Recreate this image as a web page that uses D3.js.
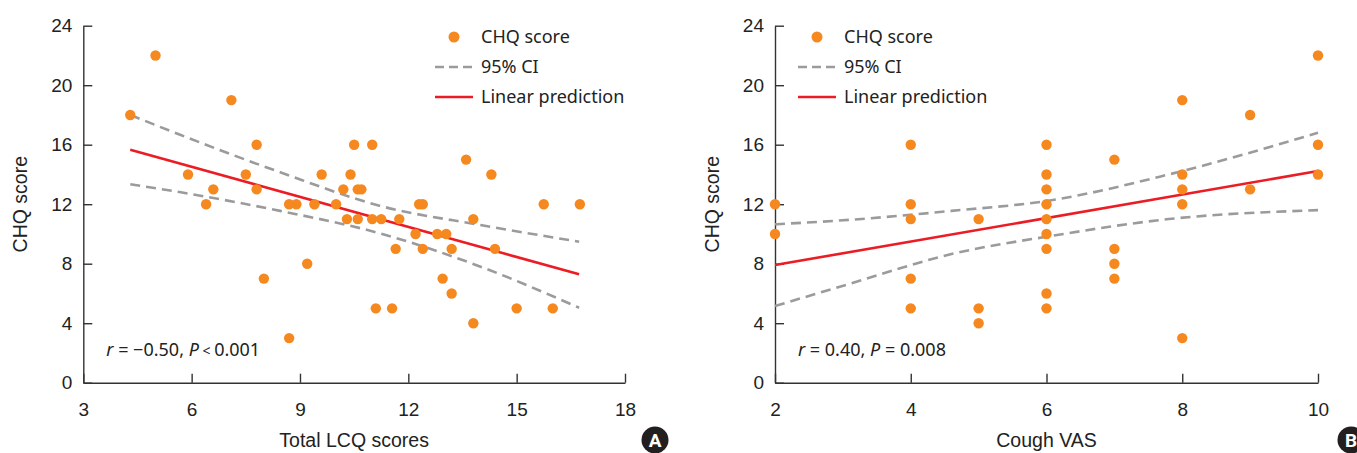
<!DOCTYPE html>
<html lang="en">
<head>
<meta charset="utf-8">
<title>CHQ score correlations</title>
<script src="https://d3js.org/d3.v7.min.js"></script>
<style>
    body { margin: 0; background: #fff; }
    svg { display: block; }
    .tick text { font-family: "Liberation Sans Narrow", "Liberation Sans", Arial, sans-serif; font-size: 19px; fill: #222; }
    .axis path, .axis line { stroke: #333; stroke-width: 1.4; }
    .title { font-family: "Liberation Sans Narrow", "Liberation Sans", Arial, sans-serif; font-size: 19.5px; fill: #222; }
    .legend, .stat { font-family: "Noto Sans", "Open Sans", sans-serif; font-size: 18px; fill: #222; }
</style>
</head>
<body>
<div id="chart"></div>
<script>
// Panel A: Total LCQ scores vs CHQ score
var lcqScores = [4.3, 5.0, 5.9, 6.4, 6.6, 7.1, 7.5, 7.8, 7.8, 8.0, 8.7, 8.7, 8.9, 9.2, 9.4, 9.6, 10.0, 10.2, 10.3, 10.4,
                 10.5, 10.6, 10.7, 10.6, 11.0, 11.0, 11.1, 11.25, 11.55, 11.65, 11.75, 12.2, 12.3, 12.4, 12.4, 12.8, 12.95, 13.05, 13.2, 13.2,
                 13.6, 13.8, 13.8, 14.3, 14.4, 15.0, 15.75, 16.0, 16.75];
var chqA = [18, 22, 14, 12, 13, 19, 14, 16, 13, 7, 3, 12, 12, 8, 12, 14, 12, 13, 11, 14,
            16, 13, 13, 11, 16, 11, 5, 11, 5, 9, 11, 10, 12, 12, 9, 10, 7, 10, 6, 9,
            15, 11, 4, 14, 9, 5, 12, 5, 12];
var predAx = [4.3, 16.73];
var predAy = [15.66, 7.29];
var ciAx = [4.3, 5.7, 8.45, 11.2, 14.0, 16.73];
var ciAupper = [18.0, 16.65, 14.15, 11.9, 10.6, 9.48];
var ciAlower = [13.34, 12.8, 11.55, 10.05, 7.8, 5.04];

// Panel B: Cough VAS vs CHQ score
var coughVas = [2, 2, 4, 4, 4, 4, 4, 5, 5, 5, 6, 6, 6, 6, 6, 6, 6, 6, 6, 7, 7, 7, 7, 8, 8, 8, 8, 8, 9, 9, 10, 10, 10];
var chqB = [12, 10, 16, 12, 11, 7, 5, 11, 5, 4, 16, 14, 13, 12, 11, 10, 9, 6, 5, 15, 9, 8, 7, 19, 14, 13, 12, 3, 18, 13, 22, 16, 14];
var predBx = [2, 10];
var predBy = [7.91, 14.23];
var ciBx = [2, 3.1, 4.6, 6.05, 7.8, 10];
var ciBupper = [10.65, 10.95, 11.55, 12.25, 14.0, 16.8];
var ciBlower = [5.15, 6.65, 8.65, 9.85, 11.0, 11.6];

var yTicks = [0, 4, 8, 12, 16, 20, 24];
var xTicksA = [3, 6, 9, 12, 15, 18];
var xTicksB = [2, 4, 6, 8, 10];

var width = 1357, height = 453;
var orange = '#F5891F', red = '#EC1C24', grey = '#9B9B9D';

var svg = d3.select('#chart').append('svg')
    .attr('width', width)
    .attr('height', height);

function drawPanel(opt) {
    var x = d3.scaleLinear().domain(opt.xDomain).range(opt.xRange);
    var y = d3.scaleLinear().domain([0, 24]).range([382.7, 25.7]);
    var g = svg.append('g');

    // axes, ticks pointing inward
    g.append('g').attr('class', 'axis')
        .attr('transform', 'translate(' + opt.xRange[0] + ',0)')
        .call(d3.axisLeft(y).tickValues(yTicks).tickSizeInner(-9).tickSizeOuter(0).tickPadding(11));
    g.append('g').attr('class', 'axis')
        .attr('transform', 'translate(0,' + y(0) + ')')
        .call(d3.axisBottom(x).tickValues(opt.xTicks).tickSizeInner(-9).tickSizeOuter(0).tickPadding(20));

    // CI lines
    var ciLine = d3.line().curve(d3.curveMonotoneX)
        .x(function (d) { return x(d[0]); })
        .y(function (d) { return y(d[1]); });
    [opt.ciUpper, opt.ciLower].forEach(function (arr) {
        g.append('path')
            .datum(opt.ciX.map(function (v, i) { return [v, arr[i]]; }))
            .attr('d', ciLine)
            .attr('fill', 'none')
            .attr('stroke', grey)
            .attr('stroke-width', 2.6)
            .attr('stroke-dasharray', '10,6');
    });

    // prediction line
    g.append('path')
        .datum(opt.predX.map(function (v, i) { return [v, opt.predY[i]]; }))
        .attr('d', ciLine.curve(d3.curveLinear))
        .attr('fill', 'none')
        .attr('stroke', red)
        .attr('stroke-width', 2.6);

    // points
    g.selectAll('.dot')
        .data(opt.xs)
        .enter().append('circle')
        .attr('class', 'dot')
        .attr('cx', function (d) { return x(d); })
        .attr('cy', function (d, i) { return y(opt.ys[i]); })
        .attr('r', 5.2)
        .attr('fill', orange);

    // axis titles
    g.append('text').attr('class', 'title')
        .attr('x', (opt.xRange[0] + opt.xRange[1]) / 2)
        .attr('y', 447)
        .attr('text-anchor', 'middle')
        .text(opt.xTitle);
    g.append('text').attr('class', 'title')
        .attr('transform', 'translate(' + (opt.xRange[0] - 56) + ',' + y(12) + ') rotate(-90)')
        .attr('text-anchor', 'middle')
        .text('CHQ score');

    // legend
    var lx = opt.legendX;
    g.append('circle').attr('cx', lx + 19).attr('cy', 37).attr('r', 5.5).attr('fill', orange);
    g.append('line').attr('x1', lx).attr('x2', lx + 38).attr('y1', 67).attr('y2', 67)
        .attr('stroke', grey).attr('stroke-width', 2.6).attr('stroke-dasharray', '9,5');
    g.append('line').attr('x1', lx).attr('x2', lx + 38).attr('y1', 97).attr('y2', 97)
        .attr('stroke', red).attr('stroke-width', 2.6);
    var labels = ['CHQ score', '95% CI', 'Linear prediction'];
    labels.forEach(function (t, i) {
        g.append('text').attr('class', 'legend')
            .attr('x', lx + 46).attr('y', 37 + i * 30).attr('dy', '0.35em')
            .text(t);
    });

    // correlation text
    var st = g.append('text').attr('class', 'stat')
        .attr('x', opt.xRange[0] + 23).attr('y', 356);
    st.append('tspan').attr('font-style', 'italic').text('r');
    st.append('tspan').text(' = ' + opt.r + ', ');
    st.append('tspan').attr('font-style', 'italic').text('P');
    if (opt.lessThan) {
        st.append('tspan').attr('font-size', '14px').text(' < ');
        st.append('tspan').text(opt.p);
    } else {
        st.append('tspan').text(' = ' + opt.p);
    }

    // panel badge
    var b = g.append('g').attr('transform', 'translate(' + opt.badge[0] + ',' + opt.badge[1] + ')');
    b.append('circle').attr('r', 13.5).attr('fill', '#231F20');
    b.append('text').attr('text-anchor', 'middle').attr('dy', '0.36em')
        .attr('font-family', 'Roboto, "Liberation Sans", sans-serif')
        .attr('font-weight', 'bold').attr('font-size', '19px').attr('fill', '#fff')
        .text(opt.badgeText);
}

drawPanel({
    xDomain: [3, 18], xRange: [83.3, 625], xTicks: xTicksA,
    xs: lcqScores, ys: chqA,
    predX: predAx, predY: predAy,
    ciX: ciAx, ciUpper: ciAupper, ciLower: ciAlower,
    xTitle: 'Total LCQ scores', legendX: 435,
    r: '\u22120.50', p: '0.001', lessThan: true,
    badge: [655, 440], badgeText: 'A'
});

drawPanel({
    xDomain: [2, 10], xRange: [775, 1318], xTicks: xTicksB,
    xs: coughVas, ys: chqB,
    predX: predBx, predY: predBy,
    ciX: ciBx, ciUpper: ciBupper, ciLower: ciBlower,
    xTitle: 'Cough VAS', legendX: 798,
    r: '0.40', p: '0.008', lessThan: false,
    badge: [1351, 440], badgeText: 'B'
});
</script>
</body>
</html>
